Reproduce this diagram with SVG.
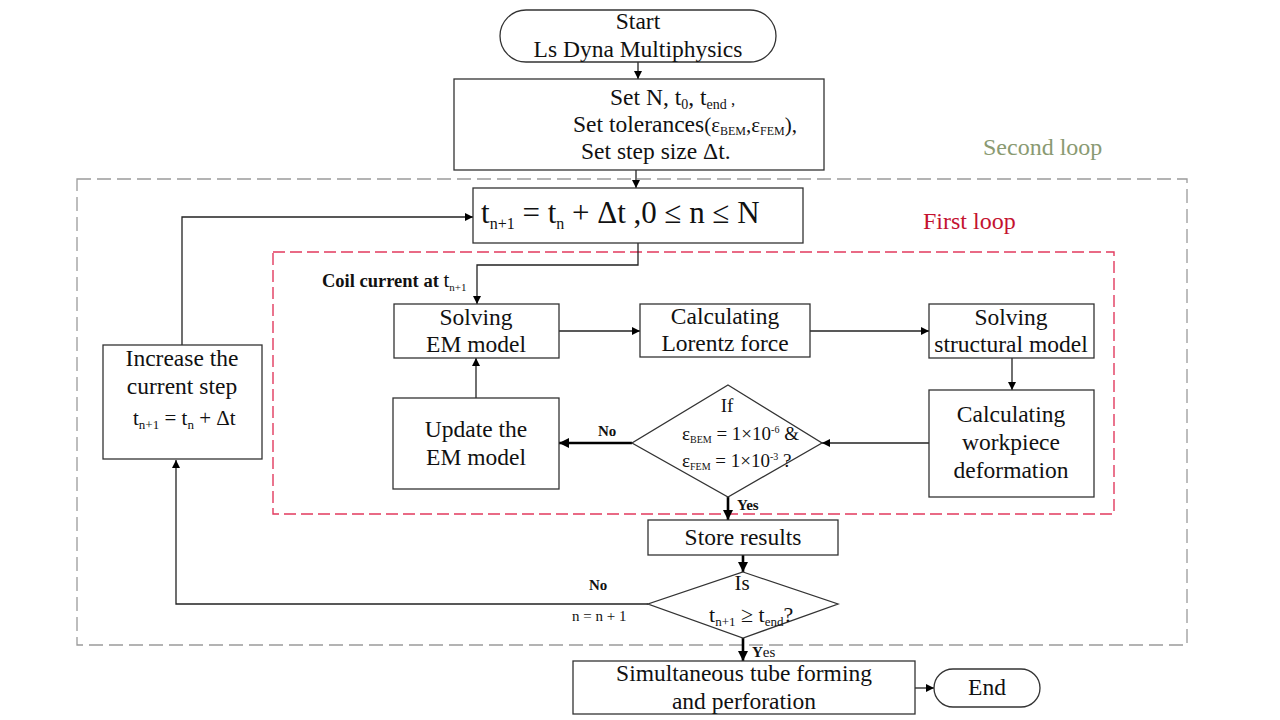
<svg xmlns="http://www.w3.org/2000/svg" width="1280" height="720" viewBox="0 0 1280 720" font-family="'Liberation Serif','Times New Roman',serif">
<defs>
<marker id="ah" viewBox="0 0 10 10" refX="10" refY="5" markerWidth="10" markerHeight="8" markerUnits="userSpaceOnUse" orient="auto">
<path d="M0,0 L10,5 L0,10 Z" fill="#000"/>
</marker>
<marker id="ahb" viewBox="0 0 10 10" refX="10" refY="5" markerWidth="12" markerHeight="10" markerUnits="userSpaceOnUse" orient="auto">
<path d="M0,0 L10,5 L0,10 Z" fill="#000"/>
</marker>
</defs>
<style>
text{font-family:"Liberation Serif","Times New Roman",serif;fill:#111;}
.lbl{font-family:"Liberation Serif","Times New Roman",serif;font-size:23.5px;}
.mid{text-anchor:middle;}
.bl{font-family:"Liberation Serif","Times New Roman",serif;font-weight:bold;font-size:15px;}
.box{fill:#fff;stroke:#333;stroke-width:1.3;}
.ln{fill:none;stroke:#222;stroke-width:1.3;}
.thk{fill:none;stroke:#000;stroke-width:2.6;}
.sub{font-size:14px;}
</style>
<rect width="1280" height="720" fill="#fff"/>

<g id="loops">
<rect x="77" y="179" width="1110" height="466" fill="none" stroke="#9a9a9a" stroke-width="1.3" stroke-dasharray="14,6"/>
<text x="983" y="155" style="font-size:24px;fill:#8a9a72">Second loop</text>
<rect x="273" y="252" width="841" height="262" fill="none" stroke="#e23a5e" stroke-width="1.4" stroke-dasharray="12,5"/>
<text x="923" y="229" style="font-size:24px;fill:#c41230">First loop</text>
</g>

<g id="connectors">
<line class="ln" x1="638" y1="62" x2="638" y2="79" marker-end="url(#ah)"/>
<line class="ln" x1="636" y1="170" x2="636" y2="188" marker-end="url(#ah)"/>
<polyline class="ln" points="182,345 182,217 473,217" marker-end="url(#ah)"/>
<polyline class="ln" points="638,243 638,265 477,265 477,304" marker-end="url(#ah)"/>
<line class="ln" x1="559" y1="331" x2="640" y2="331" marker-end="url(#ah)"/>
<line class="ln" x1="810" y1="331" x2="929" y2="331" marker-end="url(#ah)"/>
<line class="ln" x1="1012" y1="358" x2="1012" y2="390" marker-end="url(#ah)"/>
<line class="ln" x1="929" y1="443" x2="822" y2="443" marker-end="url(#ah)"/>
<line class="thk" x1="632" y1="443" x2="559" y2="443" marker-end="url(#ahb)"/>
<line class="ln" x1="476" y1="398" x2="476" y2="358" marker-end="url(#ah)"/>
<line class="thk" x1="728" y1="497" x2="728" y2="520" marker-end="url(#ahb)"/>
<line class="thk" x1="743" y1="555" x2="743" y2="572" marker-end="url(#ahb)"/>
<polyline class="ln" points="648,604 176,604 176,460" marker-end="url(#ah)"/>
<line class="thk" x1="743" y1="638" x2="743" y2="661" marker-end="url(#ahb)"/>
<line class="ln" x1="915" y1="688" x2="934" y2="688" marker-end="url(#ah)"/>
<text x="598" y="436" class="bl">No</text>
<text x="737" y="510" class="bl">Yes</text>
<text x="589" y="590" class="bl">No</text>
<text x="572" y="621" style="font-size:15px">n = n + 1</text>
<text x="752" y="657" class="bl">Y<tspan style="font-weight:normal">es</tspan></text>
</g>

<g id="start">
<rect x="500" y="10" width="276" height="52" rx="26" class="box"/>
<text x="638" y="29" class="lbl mid">Start</text>
<text x="638" y="57" class="lbl mid">Ls Dyna Multiphysics</text>
</g>

<g id="setup">
<rect x="454" y="79" width="370" height="91" class="box"/>
<text x="610" y="105" class="lbl">Set N, t<tspan class="sub" dy="4">0</tspan><tspan dy="-4">, t</tspan><tspan class="sub" dy="4">end</tspan><tspan dy="-4" style="font-size:17px"> ,</tspan></text>
<text x="573" y="132" class="lbl">Set tolerances<tspan style="font-size:21px">(ε</tspan><tspan style="font-size:12px" dy="3">BEM</tspan><tspan style="font-size:21px" dy="-3">,ε</tspan><tspan style="font-size:12px" dy="3">FEM</tspan><tspan dy="-3" style="font-size:21px">),</tspan></text>
<text x="581" y="159" class="lbl">Set step size Δt.</text>
</g>

<g id="step">
<rect x="473" y="188" width="330" height="55" class="box"/>
<text x="481" y="223" style="font-size:31px">t<tspan style="font-size:16px" dy="6">n+1</tspan><tspan dy="-6"> = t</tspan><tspan style="font-size:16px" dy="6">n</tspan><tspan dy="-6"> + Δt ,0 ≤ n ≤ N</tspan></text>
</g>

<g id="coil">
<text x="322" y="287" style="font-weight:bold;font-size:18.5px">Coil current at <tspan style="font-weight:normal;font-size:21px">t</tspan><tspan style="font-weight:normal;font-size:11px" dy="4">n+1</tspan></text>
</g>

<g id="solveEM">
<rect x="394" y="304" width="165" height="54" class="box"/>
<text x="476" y="325" class="lbl mid">Solving</text>
<text x="476" y="352" class="lbl mid">EM model</text>
</g>

<g id="lorentz">
<rect x="640" y="304" width="170" height="53" class="box"/>
<text x="725" y="324" class="lbl mid">Calculating</text>
<text x="725" y="351" class="lbl mid">Lorentz force</text>
</g>

<g id="structural">
<rect x="929" y="304" width="165" height="54" class="box"/>
<text x="1011" y="325" class="lbl mid">Solving</text>
<text x="1011" y="352" class="lbl mid">structural model</text>
</g>

<g id="deform">
<rect x="929" y="390" width="165" height="107" class="box"/>
<text x="1011" y="422" class="lbl mid">Calculating</text>
<text x="1011" y="450" class="lbl mid">workpiece</text>
<text x="1011" y="478" class="lbl mid">deformation</text>
</g>

<g id="check1">
<polygon points="728,385 822,443 728,497 632,443" class="box"/>
<text x="727" y="412" style="font-size:19px" class="mid">If</text>
<text x="682" y="440" style="font-size:19px">ε<tspan style="font-size:10px" dy="3">BEM</tspan><tspan dy="-3"> = 1×10</tspan><tspan style="font-size:10px" dy="-7">-6</tspan><tspan dy="7"> &amp;</tspan></text>
<text x="682" y="467" style="font-size:19px">ε<tspan style="font-size:10px" dy="3">FEM</tspan><tspan dy="-3"> = 1×10</tspan><tspan style="font-size:10px" dy="-7">-3</tspan><tspan dy="7"> ?</tspan></text>
</g>

<g id="update">
<rect x="393" y="398" width="166" height="91" class="box"/>
<text x="476" y="437" class="lbl mid">Update the</text>
<text x="476" y="465" class="lbl mid">EM model</text>
</g>

<g id="store">
<rect x="648" y="520" width="190" height="35" class="box"/>
<text x="743" y="545" class="lbl mid">Store results</text>
</g>

<g id="check2">
<polygon points="743,572 838,604 743,638 648,604" class="box"/>
<text x="742" y="590" class="mid" style="font-size:21px">Is</text>
<text x="709" y="622" style="font-size:22px">t<tspan style="font-size:13px" dy="4">n+1</tspan><tspan dy="-4"> ≥ t</tspan><tspan style="font-size:13px" dy="4">end</tspan><tspan dy="-4">?</tspan></text>
</g>

<g id="increase">
<rect x="103" y="345" width="159" height="114" class="box"/>
<text x="182" y="366" class="lbl mid">Increase the</text>
<text x="182" y="394" class="lbl mid">current step</text>
<text x="133" y="425" style="font-size:21px">t<tspan style="font-size:13px" dy="4">n+1</tspan><tspan dy="-4"> = t</tspan><tspan style="font-size:13px" dy="4">n</tspan><tspan dy="-4"> + Δt</tspan></text>
</g>

<g id="final">
<rect x="573" y="661" width="342" height="53" class="box"/>
<text x="744" y="681" class="lbl mid">Simultaneous tube forming</text>
<text x="744" y="709" class="lbl mid">and perforation</text>
</g>

<g id="end">
<rect x="934" y="669" width="106" height="38" rx="19" class="box"/>
<text x="987" y="695" class="lbl mid">End</text>
</g>
</svg>
